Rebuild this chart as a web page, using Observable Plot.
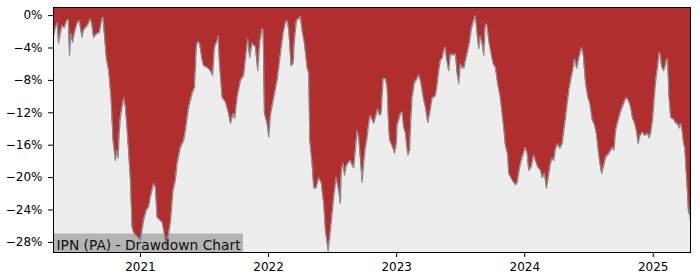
<!DOCTYPE html>
<html>
<head>
<meta charset="utf-8">
<script src="https://cdn.jsdelivr.net/npm/d3@7"></script>
<script src="https://cdn.jsdelivr.net/npm/@observablehq/plot@0.6"></script>
<style>
  html, body { margin: 0; padding: 0; background: #ffffff; }
  #chart { width: 700px; height: 280px; }
</style>
</head>
<body>
<div id="chart"></div>
<script>
const title = "IPN (PA) - Drawdown Chart";

// time in decimal years
const years = [2020.323,2020.336,2020.354,2020.362,2020.389,2020.407,2020.428,2020.440,2020.448,2020.459,
2020.472,2020.485,2020.506,2020.524,2020.545,2020.557,2020.571,2020.589,2020.610,2020.623,
2020.635,2020.662,2020.680,2020.701,2020.709,2020.719,2020.735,2020.753,2020.771,2020.787,
2020.805,2020.818,2020.826,2020.836,2020.844,2020.870,2020.883,2020.901,2020.922,2020.935,
2020.948,2020.974,2021.000,2021.026,2021.047,2021.065,2021.078,2021.104,2021.117,2021.130,
2021.148,2021.169,2021.182,2021.203,2021.221,2021.234,2021.255,2021.273,2021.287,2021.312,
2021.338,2021.351,2021.377,2021.404,2021.422,2021.437,2021.447,2021.461,2021.482,2021.494,
2021.521,2021.546,2021.564,2021.578,2021.599,2021.607,2021.617,2021.638,2021.664,2021.689,
2021.703,2021.724,2021.736,2021.755,2021.781,2021.806,2021.838,2021.853,2021.872,2021.898,
2021.916,2021.931,2021.950,2021.958,2021.968,2021.989,2022.002,2022.015,2022.041,2022.067,
2022.093,2022.114,2022.132,2022.145,2022.158,2022.176,2022.192,2022.202,2022.218,2022.236,
2022.249,2022.262,2022.280,2022.301,2022.314,2022.322,2022.340,2022.353,2022.372,2022.392,
2022.411,2022.431,2022.444,2022.458,2022.465,2022.478,2022.497,2022.509,2022.528,2022.548,
2022.561,2022.569,2022.582,2022.593,2022.608,2022.626,2022.639,2022.653,2022.665,2022.678,
2022.692,2022.704,2022.712,2022.731,2022.743,2022.756,2022.770,2022.782,2022.795,2022.809,
2022.821,2022.834,2022.852,2022.866,2022.879,2022.895,2022.913,2022.926,2022.938,2022.946,
2022.957,2022.973,2022.983,2022.998,2023.004,2023.016,2023.030,2023.043,2023.055,2023.069,
2023.077,2023.087,2023.102,2023.108,2023.121,2023.139,2023.160,2023.173,2023.186,2023.199,
2023.212,2023.225,2023.243,2023.258,2023.277,2023.303,2023.316,2023.329,2023.342,2023.355,
2023.368,2023.381,2023.389,2023.407,2023.420,2023.441,2023.459,2023.472,2023.485,2023.498,
2023.511,2023.524,2023.550,2023.568,2023.584,2023.602,2023.615,2023.628,2023.641,2023.654,
2023.667,2023.680,2023.693,2023.706,2023.719,2023.738,2023.753,2023.771,2023.789,2023.810,
2023.836,2023.849,2023.867,2023.875,2023.902,2023.927,2023.941,2023.961,2023.980,2024.005,
2024.019,2024.031,2024.050,2024.070,2024.084,2024.101,2024.123,2024.136,2024.154,2024.169,
2024.180,2024.201,2024.214,2024.226,2024.240,2024.258,2024.273,2024.292,2024.304,2024.318,
2024.331,2024.344,2024.362,2024.378,2024.388,2024.404,2024.414,2024.429,2024.443,2024.456,
2024.474,2024.492,2024.507,2024.526,2024.544,2024.560,2024.570,2024.585,2024.599,2024.612,
2024.630,2024.656,2024.682,2024.695,2024.708,2024.721,2024.742,2024.760,2024.778,2024.794,
2024.807,2024.825,2024.838,2024.856,2024.872,2024.882,2024.898,2024.916,2024.934,2024.956,
2024.968,2024.981,2024.995,2025.007,2025.020,2025.034,2025.046,2025.054,2025.065,2025.080,
2025.091,2025.104,2025.112,2025.124,2025.137,2025.151,2025.163,2025.176,2025.190,2025.202,
2025.216,2025.229,2025.237,2025.247,2025.257,2025.268,2025.276,2025.283,2025.291];

// drawdown in percent
const drawdown = [-2.5,-1.6,-0.9,-3.4,-1.2,-1.5,-0.6,-0.5,-4.9,-2.2,
-3.3,-2.2,-1.0,-0.6,-2.7,-1.8,-1.5,-1.2,-0.4,-1.2,
-2.7,-2.2,-2.1,-0.4,-0.2,-2.2,-5.3,-6.8,-10.1,-15.4,
-17.9,-16.6,-17.6,-14.2,-12.6,-10.1,-11.3,-15.0,-20.3,-26.1,
-26.8,-27.3,-27.7,-25.2,-24.0,-23.6,-22.4,-20.7,-21.2,-24.9,
-25.2,-25.5,-26.5,-28.6,-26.8,-25.6,-21.6,-20.3,-18.2,-16.3,
-15.4,-14.2,-11.3,-9.6,-8.9,-3.9,-3.2,-3.4,-5.5,-6.2,
-6.4,-6.8,-7.4,-3.9,-3.1,-2.5,-5.9,-10.1,-10.7,-12.1,
-13.3,-12.1,-12.7,-10.1,-8.0,-7.4,-2.8,-5.2,-3.4,-3.9,
-6.8,-3.4,-1.6,-1.8,-12.1,-13.3,-15.0,-12.3,-10.1,-8.0,
-4.7,-2.2,-0.9,-0.6,-1.8,-6.2,-5.9,-3.1,-0.6,-0.4,
-0.1,-1.8,-3.4,-6.4,-7.1,-15.4,-18.2,-21.3,-21.3,-20.0,
-20.6,-23.2,-26.5,-28.1,-29.1,-27.3,-24.4,-22.4,-20.0,-21.6,
-23.2,-19.1,-18.2,-19.7,-18.5,-18.1,-17.9,-18.5,-18.8,-16.6,
-14.2,-15.0,-16.6,-20.6,-18.2,-16.3,-15.0,-13.3,-12.3,-12.9,
-13.3,-12.6,-11.5,-12.3,-12.1,-7.8,-7.8,-8.9,-13.8,-15.4,
-15.8,-16.4,-17.0,-15.8,-13.5,-12.9,-12.1,-11.9,-13.8,-14.5,
-15.8,-17.2,-16.6,-13.8,-10.1,-8.3,-7.8,-7.3,-8.0,-9.2,
-10.5,-11.3,-13.2,-12.1,-10.2,-9.9,-8.6,-6.8,-5.5,-5.3,
-4.3,-3.9,-5.3,-6.8,-4.7,-4.9,-4.7,-7.1,-8.4,-5.9,
-6.4,-6.5,-4.7,-3.4,-1.6,-0.6,0,-2.2,-4.1,-2.5,
-3.4,-4.9,-1.0,-1.2,-3.1,-4.7,-5.9,-6.4,-8.4,-10.2,
-13.8,-16.0,-17.2,-19.5,-20.3,-20.9,-20.6,-18.7,-17.5,-16.3,
-17.0,-19.1,-18.7,-17.2,-17.9,-18.7,-19.1,-20.0,-19.5,-21.3,
-20.3,-18.2,-17.6,-17.9,-16.4,-15.8,-16.4,-15.8,-14.2,-12.6,
-10.8,-9.2,-7.6,-6.4,-5.3,-6.5,-5.8,-4.7,-3.9,-4.9,
-8.4,-10.1,-10.8,-12.9,-13.5,-14.8,-16.3,-18.2,-19.5,-18.7,
-17.5,-17.0,-16.3,-16.6,-14.2,-13.3,-12.1,-11.3,-10.5,-10.1,
-10.5,-11.3,-12.6,-13.3,-14.4,-15.8,-14.8,-14.4,-14.8,-14.5,
-15.1,-14.5,-12.9,-10.5,-8.0,-6.4,-4.7,-4.6,-6.2,-6.8,
-6.4,-5.5,-5.3,-10.1,-12.6,-12.7,-12.9,-13.3,-13.3,-13.9,
-13.3,-14.5,-15.8,-16.3,-19.1,-21.9,-24.4,-24.0,-25.2];

const yTicks = [0, -4, -8, -12, -16, -20, -24, -28];
const xTickYears = [2021, 2022, 2023, 2024, 2025];
const yDomain = [-29.25, 1.0];

function yearToDate(y) {
  const Y = Math.floor(y);
  const a = Date.UTC(Y, 0, 1), b = Date.UTC(Y + 1, 0, 1);
  return new Date(a + (y - Y) * (b - a));
}

const n = Math.min(years.length, drawdown.length);
const data = [];
for (let i = 0; i < n; i++) data.push({date: yearToDate(years[i]), dd: drawdown[i]});

const fmtPct = d => (d < 0 ? "\u2212" : "") + Math.abs(d) + "%";
const yTop = yDomain[1];

const titleBox = (index, scales, values, dims) => {
  const h = 18.5;
  return d3.create("svg:rect")
    .attr("x", dims.marginLeft)
    .attr("y", dims.height - dims.marginBottom - h)
    .attr("width", 190)
    .attr("height", h)
    .attr("fill", "#b4b4b4")
    .node();
};

const chart = Plot.plot({
  width: 700,
  height: 280,
  marginLeft: 53,
  marginRight: 10,
  marginTop: 7,
  marginBottom: 28,
  style: {fontFamily: "DejaVu Sans", fontSize: "12px", color: "#000", background: "#ffffff", overflow: "visible"},
  x: {type: "utc", domain: d3.extent(data, d => d.date), ticks: xTickYears.map(y => yearToDate(y)),
      tickFormat: d3.utcFormat("%Y"), tickSize: 5, tickPadding: 5, label: null},
  y: {domain: yDomain, ticks: yTicks, tickFormat: fmtPct, tickSize: 5, tickPadding: 6, label: null},
  marks: [
    Plot.frame({fill: "#ededed"}),
    titleBox,
    Plot.areaY(data, {x: "date", y1: "dd", y2: () => yTop, fill: "#b02e2e"}),
    Plot.lineY(data, {x: "date", y: "dd", stroke: "#8a8a8a", strokeWidth: 1.2}),
    Plot.frame({stroke: "#000", strokeWidth: 1}),
    Plot.text([title], {text: d => d, frameAnchor: "bottom-left", textAnchor: "start", lineAnchor: "bottom",
      dx: 3, dy: -3, fontSize: 13.8, fill: "#111"})
  ]
});
document.getElementById("chart").appendChild(chart);
</script>
</body>
</html>
